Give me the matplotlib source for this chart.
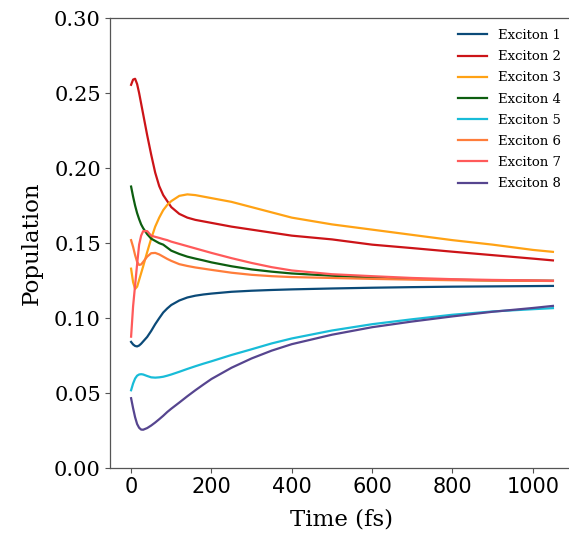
import matplotlib
matplotlib.use("Agg")
import matplotlib.pyplot as plt

time_fs = [0, 5, 10, 15, 20, 25, 30, 40, 50, 60, 70, 80, 90, 100, 120, 140, 160, 180, 200,
           250, 300, 350, 400, 500, 600, 700, 800, 900, 1000, 1050]

exciton1 = [0.0842, 0.0825, 0.0815, 0.0812, 0.0818, 0.0830, 0.0845, 0.0875, 0.0915, 0.0960,
            0.1000, 0.1038, 0.1065, 0.1088, 0.1118, 0.1138, 0.1150, 0.1158, 0.1164,
            0.1176, 0.1183, 0.1188, 0.1192, 0.1198, 0.1203, 0.1207, 0.1210, 0.1212, 0.1214, 0.1215]
exciton2 = [0.2555, 0.2590, 0.2595, 0.2560, 0.2500, 0.2430, 0.2360, 0.2220, 0.2090, 0.1970,
            0.1880, 0.1820, 0.1780, 0.1740, 0.1695, 0.1670, 0.1655, 0.1645, 0.1635,
            0.1610, 0.1590, 0.1570, 0.1550, 0.1525, 0.1490, 0.1467, 0.1443, 0.1420, 0.1397, 0.1385]
exciton3 = [0.1330, 0.1240, 0.1195, 0.1210, 0.1255, 0.1300, 0.1345, 0.1440, 0.1530, 0.1610,
            0.1670, 0.1720, 0.1755, 0.1780, 0.1815, 0.1825, 0.1820, 0.1810, 0.1800,
            0.1775, 0.1740, 0.1705, 0.1670, 0.1625, 0.1590, 0.1555, 0.1520, 0.1490, 0.1455, 0.1442]
exciton4 = [0.1877, 0.1810, 0.1750, 0.1700, 0.1660, 0.1625, 0.1600, 0.1560, 0.1530, 0.1515,
            0.1500, 0.1490, 0.1470, 0.1450, 0.1428, 0.1410, 0.1397, 0.1385, 0.1372,
            0.1346, 0.1325, 0.1310, 0.1298, 0.1283, 0.1270, 0.1262, 0.1256, 0.1252, 0.1250, 0.1249]
exciton5 = [0.0520, 0.0565, 0.0598, 0.0617, 0.0625, 0.0627, 0.0625, 0.0615, 0.0606, 0.0604,
            0.0606, 0.0610, 0.0617, 0.0625, 0.0643, 0.0662, 0.0680, 0.0697, 0.0713,
            0.0755, 0.0793, 0.0832, 0.0865, 0.0918, 0.0960, 0.0993, 0.1023, 0.1045, 0.1060, 0.1067]
exciton6 = [0.1520, 0.1475, 0.1420, 0.1375, 0.1355, 0.1358, 0.1375, 0.1410, 0.1433, 0.1435,
            0.1425, 0.1410, 0.1395, 0.1382, 0.1360, 0.1348, 0.1338, 0.1330, 0.1322,
            0.1303, 0.1289, 0.1280, 0.1274, 0.1268, 0.1262, 0.1257, 0.1253, 0.1250, 0.1249, 0.1248]
exciton7 = [0.0877, 0.1080, 0.1220, 0.1360, 0.1490, 0.1550, 0.1580, 0.1580, 0.1550, 0.1542,
            0.1535, 0.1527, 0.1520, 0.1510, 0.1495, 0.1480, 0.1465, 0.1450, 0.1435,
            0.1400, 0.1368, 0.1340, 0.1318, 0.1293, 0.1280, 0.1268, 0.1260, 0.1255, 0.1252, 0.1250]
exciton8 = [0.0467, 0.0400, 0.0340, 0.0295, 0.0270, 0.0258, 0.0257, 0.0268, 0.0285, 0.0305,
            0.0327, 0.0350, 0.0375, 0.0397, 0.0438, 0.0480, 0.0520, 0.0558, 0.0595,
            0.0670, 0.0732, 0.0784, 0.0827, 0.0890, 0.0940, 0.0978, 0.1012, 0.1043, 0.1068, 0.1082]

series = [exciton1, exciton2, exciton3, exciton4, exciton5, exciton6, exciton7, exciton8]
labels = ["Exciton 1", "Exciton 2", "Exciton 3", "Exciton 4",
          "Exciton 5", "Exciton 6", "Exciton 7", "Exciton 8"]
colors = ["#0b4a78", "#cc1418", "#ffa214", "#0d5e10",
          "#18bcd8", "#ff7d3a", "#ff5a5a", "#56458f"]

yticks = [0.00, 0.05, 0.10, 0.15, 0.20, 0.25, 0.30]
xticks = [0, 200, 400, 600, 800, 1000]

fig = plt.figure(figsize=(5.69, 5.41), dpi=100)
ax = fig.add_axes([110 / 569, 1 - 468.3 / 541, 464 / 569, 450.3 / 541])

for vals, lab, col in zip(series, labels, colors):
    ax.plot(time_fs, vals, color=col, lw=1.6, label=lab)

ax.set_xlim(-52.5, 1102.5)
ax.set_ylim(0, 0.30)
ax.set_yticks(yticks)
ax.set_yticklabels([f"{v:.2f}" for v in yticks], family="DejaVu Serif", fontsize=15)
ax.set_xticks(xticks)
ax.set_xticklabels([str(v) for v in xticks], family="DejaVu Sans", fontsize=15)
ax.tick_params(axis="both", length=3.5, width=0.8, color="#555555", pad=3)
for s in ax.spines.values():
    s.set_color("#555555")
    s.set_linewidth(0.9)
ax.spines["right"].set_visible(False)

ax.set_xlabel("Time (fs)", family="DejaVu Serif", fontsize=16.5, labelpad=8)
ax.set_ylabel("Population", family="DejaVu Serif", fontsize=16.5, labelpad=8)

leg = ax.legend(loc="upper left", bbox_to_anchor=(458 / 569, 1 - 29 / 541),
                bbox_transform=fig.transFigure, frameon=False,
                prop={"family": "DejaVu Serif", "size": 9.5},
                handlelength=2.2, labelspacing=0.62, borderaxespad=0, borderpad=0)

fig.savefig("out.png", dpi=100)
